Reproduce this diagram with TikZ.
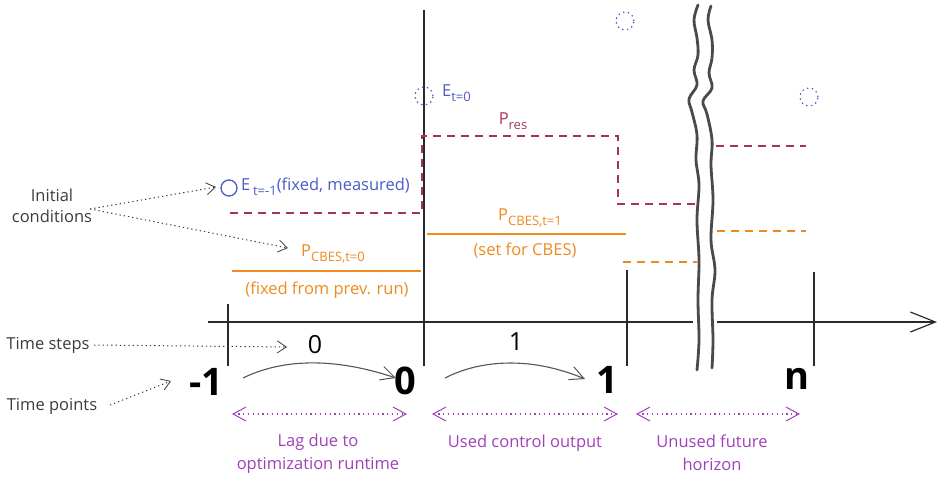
\documentclass[tikz,border=0pt]{standalone}
\usepackage{fontspec}
\setmainfont{Open Sans}
\usetikzlibrary{arrows.meta}
\definecolor{pres}{HTML}{A8335A}
\definecolor{cbes}{HTML}{EE8A1E}
\definecolor{ecol}{HTML}{4A5BC8}
\definecolor{purp}{HTML}{A040B8}
\definecolor{txtgray}{HTML}{3C3C3C}
\definecolor{axcol}{HTML}{2A2A2A}
\newcommand{\sbs}[1]{\raisebox{-0.55ex}{\fontsize{13}{14}\selectfont #1}}
\tikzset{
  lbl/.style={font=\fontsize{16.5}{21}\selectfont, text=txtgray, align=center, inner sep=0pt},
  plbl/.style={font=\fontsize{16.5}{23}\selectfont, text=purp, align=center, inner sep=0pt},
  olbl/.style={font=\fontsize{16.5}{18}\selectfont, text=cbes, inner sep=0pt},
  rlbl/.style={font=\fontsize{16.5}{18}\selectfont, text=pres, inner sep=0pt},
  elbl/.style={font=\fontsize{16.5}{18}\selectfont, text=ecol, inner sep=0pt},
  bignum/.style={font=\fontsize{38}{40}\selectfont\bfseries, text=black, inner sep=0pt},
  stepnum/.style={font=\fontsize{25}{27}\selectfont, text=black, inner sep=0pt},
  axisline/.style={draw=axcol, line width=1.3pt},
  tickline/.style={draw=axcol, line width=1.3pt},
  wavy/.style={draw=axcol!85, line width=2.8pt, line cap=round},
  resline/.style={draw=pres, line width=1.2pt, dash pattern=on 8pt off 6pt},
  cbesline/.style={draw=cbes, line width=1.3pt},
  cbesdash/.style={draw=cbes, line width=1.2pt, dash pattern=on 8pt off 6pt},
  ecirc/.style={draw=ecol, line width=1.3pt, circle, minimum size=16pt, inner sep=0pt},
  edot/.style={draw=ecol, line width=1.2pt, dash pattern=on 1.4pt off 3.5pt, circle, minimum size=18pt, inner sep=0pt},
  hint/.style={draw=txtgray, line width=1pt, dash pattern=on 1.3pt off 3pt, -{Straight Barb[length=9pt,width=12pt,line width=0.8pt]}},
  curvearrow/.style={draw=axcol!80, line width=1.1pt, -{Straight Barb[length=14pt,width=14pt,line width=1pt]}},
  spanarrow/.style={draw=purp, line width=1.3pt, dash pattern=on 1.3pt off 3.5pt, {Straight Barb[length=13pt,width=14pt,line width=1pt]}-{Straight Barb[length=13pt,width=14pt,line width=1pt]}},
}
\begin{document}
\begin{tikzpicture}[x=1pt,y=-1pt]
\useasboundingbox (0,0) rectangle (939,482);

% ---------- axis ----------
\coordinate (ax0) at (208,322);
\coordinate (axb1) at (693,322);
\coordinate (axb2) at (717,322);
\coordinate (axend) at (937,322);
\draw[axisline] (ax0) -- (axb1);
\draw[axisline,-{Straight Barb[length=25pt,width=20pt,line width=1.2pt]}] (axb2) -- (axend);

% ---------- ticks ----------
\coordinate (tm1a) at (228,304); \coordinate (tm1b) at (228,366);
\coordinate (t0a) at (424,10);   \coordinate (t0b) at (424,366);
\coordinate (t1a) at (627,270);  \coordinate (t1b) at (627,366);
\coordinate (tna) at (814,272);  \coordinate (tnb) at (814,366);
\draw[tickline] (tm1a) -- (tm1b);
\draw[tickline] (t0a) -- (t0b);
\draw[tickline] (t1a) -- (t1b);
\draw[tickline] (tna) -- (tnb);

% ---------- break (wavy lines) ----------
\draw[wavy] plot[smooth, tension=0.6] coordinates {(698,5) (694,20) (697,38) (698,55) (694,70) (697,85) (689,99) (692,112) (697,135) (696,160) (699,185) (697,220) (699,260) (698,300) (699,340) (697,370)};
\draw[wavy] plot[smooth, tension=0.6] coordinates {(711,6) (708,20) (712,40) (712,58) (709,73) (712,88) (703,101) (707,114) (712,140) (711,165) (713,200) (711,240) (715,270) (712,300) (713,340) (712,368)};

% ---------- P_res (red dashed) ----------
\coordinate (r1) at (230,213); \coordinate (r2) at (422,213);
\coordinate (r3) at (422,136); \coordinate (r4) at (618,136);
\coordinate (r5) at (618,204); \coordinate (r6) at (699,204);
\coordinate (r7) at (716,146); \coordinate (r8) at (806,146);
\draw[resline] (r1) -- (r2) -- (r3) -- (r4) -- (r5) -- (r6);
\draw[resline] (r7) -- (r8);
\node[rlbl] (preslbl) at (513,121) {P\sbs{res}};

% ---------- P_CBES (orange) ----------
\coordinate (o1) at (232,271); \coordinate (o2) at (421,271);
\coordinate (o3) at (427,234); \coordinate (o4) at (626,234);
\coordinate (o5) at (623,262); \coordinate (o6) at (697,262);
\coordinate (o7) at (717,231); \coordinate (o8) at (806,231);
\draw[cbesline] (o1) -- (o2);
\draw[cbesline] (o3) -- (o4);
\draw[cbesdash] (o5) -- (o6);
\draw[cbesdash] (o7) -- (o8);
\node[olbl] (pc0) at (333,254) {P\sbs{CBES,t=0}};
\node[olbl] (pc0n) at (327,290) {(fixed from prev. run)};
\node[olbl] (pc1) at (530,218) {P\sbs{CBES,t=1}};
\node[olbl] (pc1n) at (525,250) {(set for CBES)};

% ---------- E (blue) ----------
\node[ecirc] (em1) at (229,188) {};
\node[elbl, anchor=west] (em1lbl) at (241,187) {E\,\sbs{t=-1}(fixed, measured)};
\node[edot] (e0) at (424,96) {};
\node[elbl, anchor=west] (e0lbl) at (442,93) {E\sbs{t=0}};
\node[edot] (e1) at (625,21) {};
\node[edot] (en) at (809,97) {};

% ---------- left explanatory labels ----------
\node[lbl] (init) at (52,206) {Initial\\conditions};
\node[lbl] (tsteps) at (48,345) {Time steps};
\node[lbl] (tpoints) at (52,406) {Time points};
\coordinate (initout) at (90,209);
\coordinate (initE) at (216,187);
\coordinate (initP) at (288,248);
\coordinate (tsout) at (94,345);
\coordinate (tsin) at (287,347);
\coordinate (tpout) at (110,405);
\coordinate (tpin) at (171,381);
\draw[hint] (initout) -- (initE);
\draw[hint] (initout) -- (initP);
\draw[hint] (tsout) -- (tsin);
\draw[hint] (tpout) -- (tpin);

% ---------- time points ----------
\node[bignum] (pm1) at (206,382) {-1};
\node[bignum] (p0) at (405,381) {0};
\node[bignum] (p1) at (607,380) {1};
\node[bignum] (pn) at (797,379) {n};

% ---------- time steps ----------
\node[stepnum] (s0) at (315,345) {0};
\node[stepnum] (s1) at (516,342) {1};
\coordinate (c0a) at (243,378); \coordinate (c0b) at (396,378);
\coordinate (c1a) at (445,378); \coordinate (c1b) at (585,379);
\draw[curvearrow] (c0a) .. controls (280,360) and (330,356) .. (c0b);
\draw[curvearrow] (c1a) .. controls (480,360) and (530,356) .. (c1b);

% ---------- spans ----------
\coordinate (sa1) at (232,414); \coordinate (sa2) at (407,414);
\coordinate (sb1) at (432,414); \coordinate (sb2) at (618,414);
\coordinate (sc1) at (636,414); \coordinate (sc2) at (800,414);
\draw[spanarrow] (sa1) -- (sa2);
\draw[spanarrow] (sb1) -- (sb2);
\draw[spanarrow] (sc1) -- (sc2);
\node[plbl] (lag) at (318,454) {Lag due to\\optimization runtime};
\node[plbl] (used) at (525,443) {Used control output};
\node[plbl] (unused) at (712,453) {Unused future\\horizon};
\end{tikzpicture}
\end{document}
